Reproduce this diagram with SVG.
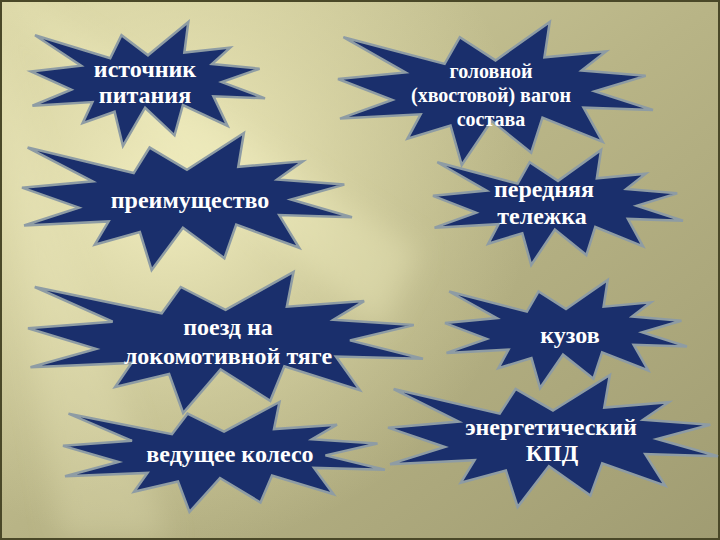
<svg xmlns="http://www.w3.org/2000/svg" width="720" height="540" viewBox="0 0 720 540">
<style>
.seal{fill:#1a2f6c;stroke:#8e9ca4;stroke-width:2.5;stroke-linejoin:miter}
.t{font-family:"Liberation Serif","Times New Roman",serif;font-weight:bold;font-size:24px;fill:#ffffff;text-anchor:middle}
.s{font-size:20px}
</style>
<defs>
<linearGradient id="bg" x1="0" y1="0" x2="1" y2="1">
<stop offset="0" stop-color="#d6d2a2"/>
<stop offset="0.5" stop-color="#b8b486"/>
<stop offset="1" stop-color="#a09c72"/>
</linearGradient>
<radialGradient id="glow" cx="170" cy="190" r="360" gradientUnits="userSpaceOnUse">
<stop offset="0" stop-color="#f6f2c4" stop-opacity="0.9"/>
<stop offset="0.5" stop-color="#ece8b8" stop-opacity="0.45"/>
<stop offset="1" stop-color="#e8e4b4" stop-opacity="0"/>
</radialGradient>
<filter id="blur" x="-20%" y="-20%" width="140%" height="140%"><feGaussianBlur stdDeviation="14"/></filter>
</defs>
<g id="background">
<rect x="0" y="0" width="720" height="540" fill="url(#bg)"/>
<rect x="0" y="0" width="720" height="540" fill="url(#glow)"/>
<g filter="url(#blur)" fill="#f4f0c4">
<polygon points="-30,-30 420,250 380,330" opacity="0.35"/>
<polygon points="-30,-30 60,540 170,540" opacity="0.25"/>
</g>
<rect x="1" y="1" width="718" height="538" fill="none" stroke="#4a4828" stroke-width="2"/>
</g>
<g id="connectors"/>
<g id="n1">
<path class="seal" vector-effect="non-scaling-stroke" transform="translate(31 22) scale(234 124)" d="M0.5 0.2685L0.6723 0L0.6553 0.2465L0.8509 0.2063L0.7732 0.3387L0.9767 0.3767L0.8151 0.485L1 0.6153L0.7795 0.5992L0.84 0.8377L0.6491 0.6693L0.6133 0.9137L0.4876 0.6914L0.3928 1L0.3572 0.7235L0.2205 0.8156L0.2624 0.6452L0.0063 0.6753L0.1723 0.5451L0 0.3988L0.2142 0.3526L0.0171 0.1063L0.3385 0.2926L0.3867 0.1063Z"/>
<text class="t" x="145" y="77">источник</text>
<text class="t" x="145" y="103">питания</text>
</g>
<g id="n2">
<path class="seal" vector-effect="non-scaling-stroke" transform="translate(338 22) scale(315 143)" d="M0.5 0.2685L0.6723 0L0.6553 0.2465L0.8509 0.2063L0.7732 0.3387L0.9767 0.3767L0.8151 0.485L1 0.6153L0.7795 0.5992L0.84 0.8377L0.6491 0.6693L0.6133 0.9137L0.4876 0.6914L0.3928 1L0.3572 0.7235L0.2205 0.8156L0.2624 0.6452L0.0063 0.6753L0.1723 0.5451L0 0.3988L0.2142 0.3526L0.0171 0.1063L0.3385 0.2926L0.3867 0.1063Z"/>
<text class="t s" x="491" y="78">головной</text>
<text class="t s" x="491" y="102">(хвостовой) вагон</text>
<text class="t s" x="491" y="126">состава</text>
</g>
<g id="n3">
<path class="seal" vector-effect="non-scaling-stroke" transform="translate(22 133) scale(330 137)" d="M0.5 0.2685L0.6723 0L0.6553 0.2465L0.8509 0.2063L0.7732 0.3387L0.9767 0.3767L0.8151 0.485L1 0.6153L0.7795 0.5992L0.84 0.8377L0.6491 0.6693L0.6133 0.9137L0.4876 0.6914L0.3928 1L0.3572 0.7235L0.2205 0.8156L0.2624 0.6452L0.0063 0.6753L0.1723 0.5451L0 0.3988L0.2142 0.3526L0.0171 0.1063L0.3385 0.2926L0.3867 0.1063Z"/>
<text class="t" x="190" y="208">преимущество</text>
</g>
<g id="n4">
<path class="seal" vector-effect="non-scaling-stroke" transform="translate(433 150) scale(250 115)" d="M0.5 0.2685L0.6723 0L0.6553 0.2465L0.8509 0.2063L0.7732 0.3387L0.9767 0.3767L0.8151 0.485L1 0.6153L0.7795 0.5992L0.84 0.8377L0.6491 0.6693L0.6133 0.9137L0.4876 0.6914L0.3928 1L0.3572 0.7235L0.2205 0.8156L0.2624 0.6452L0.0063 0.6753L0.1723 0.5451L0 0.3988L0.2142 0.3526L0.0171 0.1063L0.3385 0.2926L0.3867 0.1063Z"/>
<text class="t" x="544" y="197">передняя</text>
<text class="t" x="542" y="224">тележка</text>
</g>
<g id="n5">
<path class="seal" vector-effect="non-scaling-stroke" transform="translate(28 272) scale(395 141)" d="M0.5 0.2685L0.6723 0L0.6553 0.2465L0.8509 0.2063L0.7732 0.3387L0.9767 0.3767L0.8151 0.485L1 0.6153L0.7795 0.5992L0.84 0.8377L0.6491 0.6693L0.6133 0.9137L0.4876 0.6914L0.3928 1L0.3572 0.7235L0.2205 0.8156L0.2624 0.6452L0.0063 0.6753L0.1723 0.5451L0 0.3988L0.2142 0.3526L0.0171 0.1063L0.3385 0.2926L0.3867 0.1063Z"/>
<text class="t" x="228" y="335">поезд на</text>
<text class="t" x="228" y="364">локомотивной тяге</text>
</g>
<g id="n6">
<path class="seal" vector-effect="non-scaling-stroke" transform="translate(445 280) scale(242 108)" d="M0.5 0.2685L0.6723 0L0.6553 0.2465L0.8509 0.2063L0.7732 0.3387L0.9767 0.3767L0.8151 0.485L1 0.6153L0.7795 0.5992L0.84 0.8377L0.6491 0.6693L0.6133 0.9137L0.4876 0.6914L0.3928 1L0.3572 0.7235L0.2205 0.8156L0.2624 0.6452L0.0063 0.6753L0.1723 0.5451L0 0.3988L0.2142 0.3526L0.0171 0.1063L0.3385 0.2926L0.3867 0.1063Z"/>
<text class="t" x="570" y="343">кузов</text>
</g>
<g id="n7">
<path class="seal" vector-effect="non-scaling-stroke" transform="translate(63 402) scale(322 110)" d="M0.5 0.2685L0.6723 0L0.6553 0.2465L0.8509 0.2063L0.7732 0.3387L0.9767 0.3767L0.8151 0.485L1 0.6153L0.7795 0.5992L0.84 0.8377L0.6491 0.6693L0.6133 0.9137L0.4876 0.6914L0.3928 1L0.3572 0.7235L0.2205 0.8156L0.2624 0.6452L0.0063 0.6753L0.1723 0.5451L0 0.3988L0.2142 0.3526L0.0171 0.1063L0.3385 0.2926L0.3867 0.1063Z"/>
<text class="t" x="230" y="462">ведущее колесо</text>
</g>
<g id="n8">
<path class="seal" vector-effect="non-scaling-stroke" transform="translate(388 375) scale(330 132)" d="M0.5 0.2685L0.6723 0L0.6553 0.2465L0.8509 0.2063L0.7732 0.3387L0.9767 0.3767L0.8151 0.485L1 0.6153L0.7795 0.5992L0.84 0.8377L0.6491 0.6693L0.6133 0.9137L0.4876 0.6914L0.3928 1L0.3572 0.7235L0.2205 0.8156L0.2624 0.6452L0.0063 0.6753L0.1723 0.5451L0 0.3988L0.2142 0.3526L0.0171 0.1063L0.3385 0.2926L0.3867 0.1063Z"/>
<text class="t" x="551" y="435">энергетический</text>
<text class="t" x="552" y="461">КПД</text>
</g>
</svg>
